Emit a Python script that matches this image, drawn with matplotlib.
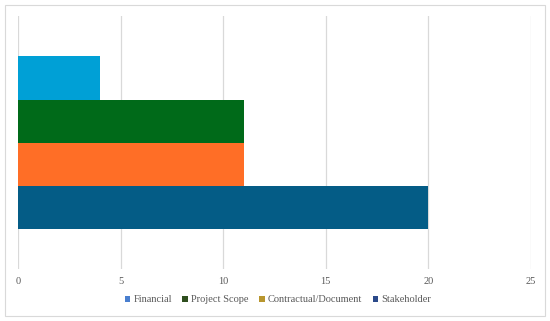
import matplotlib
matplotlib.use('Agg')
import matplotlib.pyplot as plt
from matplotlib.patches import Rectangle, Patch

# data
series = ['Financial', 'Project Scope', 'Contractual/Document', 'Stakeholder']
counts = [4, 11, 11, 20]
bar_colors = ['#00A0D6', '#006A19', '#FF6E26', '#045C86']
legend_colors = ['#4A7FCF', '#2F4F1F', '#B8962E', '#2B4A8A']
xticks = [0, 5, 10, 15, 20, 25]

plt.rcParams['font.family'] = ['Liberation Serif', 'DejaVu Serif']

W, H = 550, 321
fig = plt.figure(figsize=(W / 100, H / 100), dpi=100)

# axes placed in pixel terms
left, right, top, bottom = 18.3, 530.8, 16, 269
ax = fig.add_axes([left / W, 1 - bottom / H, (right - left) / W, (bottom - top) / H])

h = 43 / (bottom - top)
offsets = [1.5 * h, 0.5 * h, -0.5 * h, -1.5 * h]
for name, val, col, off in zip(series, counts, bar_colors, offsets):
    ax.barh(off, val, height=h, color=col, zorder=3)

ax.set_xlim(0, 25)
ax.set_ylim(-0.5, 0.5)
ax.set_xticks(xticks)
ax.set_yticks([])
ax.grid(True, axis='x', color='#D9D9D9', linewidth=0.9, zorder=0)
for s in ax.spines.values():
    s.set_visible(False)
ax.tick_params(axis='x', length=0, pad=6, labelsize=7.5, labelcolor='#595959')

handles = [Patch(facecolor=c, edgecolor='none') for c in legend_colors]
fig.legend(handles, series, loc='center', bbox_to_anchor=(278 / W, 1 - 300 / H),
           ncol=4, frameon=False, fontsize=7.5, labelcolor='#595959',
           handlelength=0.55, handleheight=0.55, handletextpad=0.3, columnspacing=1.0)

# chart border
fig.patches.append(Rectangle((5 / W, 5 / H), 540 / W, 311 / H, transform=fig.transFigure,
                             fill=False, edgecolor='#D9D9D9', linewidth=0.8))

plt.savefig('out.png', dpi=100)
